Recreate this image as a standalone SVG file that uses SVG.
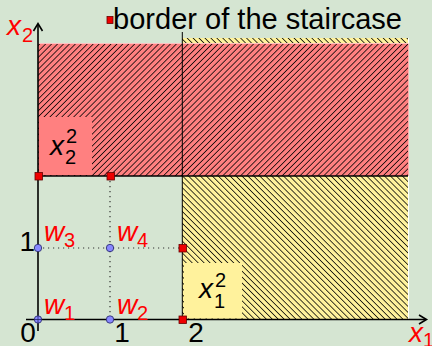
<svg xmlns="http://www.w3.org/2000/svg" width="432" height="346" viewBox="0 0 432 346">
<defs>
<style>
text{font-family:"Liberation Sans",Arial,sans-serif}
.it{font-style:italic}
.red{fill:#ff0000}
.blk{fill:#000}
.sq{fill:#ee0000;stroke:#600;stroke-width:0.8}
.pt{fill:#8888ff;stroke:#222266;stroke-width:0.8}
.dot{stroke:#333;stroke-width:1.2;stroke-dasharray:1.2 3.8;fill:none}
.ax{stroke:#000;stroke-width:1.6;fill:none}
</style>
<pattern id="hr" patternUnits="userSpaceOnUse" width="4.2" height="4.2" patternTransform="rotate(45)">
<rect width="4.2" height="4.2" fill="#ff8080"/>
<line x1="0" y1="0" x2="0" y2="4.2" stroke="#000" stroke-width="1.5"/>
</pattern>
<pattern id="hy" patternUnits="userSpaceOnUse" width="4.2" height="4.2" patternTransform="rotate(-45)">
<rect width="4.2" height="4.2" fill="#fff29c"/>
<line x1="0" y1="0" x2="0" y2="4.2" stroke="#000" stroke-width="1.5"/>
</pattern>
</defs>
<rect width="432" height="346" fill="#d5e5d2"/>
<g id="yellow-region">
<rect x="182" y="38" width="226" height="281.5" fill="url(#hy)"/>
<line x1="408.5" y1="38" x2="408.5" y2="319" stroke="#fff" stroke-width="1"/>
</g>
<g id="red-region">
<rect x="38" y="43.5" width="370" height="132.5" fill="url(#hr)"/>
<line x1="38" y1="43.5" x2="408" y2="43.5" stroke="#ffc0c0" stroke-width="1"/>
<line x1="408.5" y1="43.5" x2="408.5" y2="176" stroke="#ffb0b0" stroke-width="1"/>
</g>
<g id="label-x22">
<rect x="39" y="117" width="53" height="58" fill="#ff8080"/>
<text x="50" y="155" font-size="28" class="it blk">x</text>
<text x="66" y="143" font-size="20" class="blk">2</text>
<text x="65" y="164" font-size="20" class="blk">2</text>
</g>
<g id="label-x12">
<rect x="184" y="263" width="58" height="55.5" fill="#fff29c"/>
<text x="199" y="298" font-size="28" class="it blk">x</text>
<text x="215" y="287" font-size="20" class="blk">2</text>
<text x="214" y="308" font-size="20" class="blk">1</text>
</g>
<g id="connectors">
<line x1="38" y1="176" x2="408" y2="176" stroke="#000" stroke-width="1.3"/>
<line x1="182.3" y1="32" x2="182.3" y2="319.5" stroke="#000" stroke-width="1"/>
<line x1="38" y1="248" x2="182" y2="248" class="dot"/>
<line x1="110" y1="176" x2="110" y2="319.5" class="dot"/>
<line x1="38" y1="331" x2="38" y2="24" class="ax"/>
<path d="M33.5 31 L38 23.5 L42.5 31" class="ax"/>
<line x1="26" y1="319.5" x2="426" y2="319.5" class="ax"/>
<path d="M419 315 L426.5 319.5 L419 324" class="ax"/>
</g>
<g id="points">
<circle cx="38" cy="248" r="3.7" class="pt"/>
<circle cx="110" cy="248" r="3.7" class="pt"/>
<circle cx="38" cy="319.5" r="3.7" class="pt"/>
<line x1="34" y1="319.5" x2="42" y2="319.5" stroke="#222266" stroke-width="0.8"/>
<line x1="38" y1="315.5" x2="38" y2="323.5" stroke="#222266" stroke-width="0.8"/>
<circle cx="110" cy="319.5" r="3.7" class="pt"/>
</g>
<g id="border-points">
<rect x="35" y="172.5" width="7.5" height="7.5" class="sq"/>
<rect x="107" y="172.5" width="7.5" height="7.5" class="sq"/>
<rect x="179" y="244.5" width="7.5" height="7.5" class="sq"/>
<rect x="179" y="316" width="7.5" height="7.5" class="sq"/>
</g>
<g id="legend">
<rect x="107" y="16.5" width="6" height="7" class="sq"/>
<text x="113" y="28.5" font-size="29" textLength="289" lengthAdjust="spacingAndGlyphs" class="blk">border of the staircase</text>
</g>
<g id="labels">
<text x="7" y="35" font-size="28" class="it red">x</text>
<text x="22" y="42" font-size="20" class="red">2</text>
<text x="409" y="342" font-size="28" class="it red">x</text>
<text x="423" y="347" font-size="20" class="red">1</text>
<text x="44" y="241" font-size="28" class="it red">w</text>
<text x="64" y="247" font-size="20" class="red">3</text>
<text x="117" y="241" font-size="28" class="it red">w</text>
<text x="137" y="247" font-size="20" class="red">4</text>
<text x="44" y="314" font-size="28" class="it red">w</text>
<text x="64" y="320" font-size="20" class="red">1</text>
<text x="117" y="314" font-size="28" class="it red">w</text>
<text x="137" y="320" font-size="20" class="red">2</text>
<text x="35" y="251" font-size="28" text-anchor="end" class="blk">1</text>
<text x="28" y="342" font-size="28" text-anchor="middle" class="blk">0</text>
<text x="122" y="342" font-size="28" text-anchor="middle" class="blk">1</text>
<text x="196" y="342" font-size="28" text-anchor="middle" class="blk">2</text>
</g>
</svg>
